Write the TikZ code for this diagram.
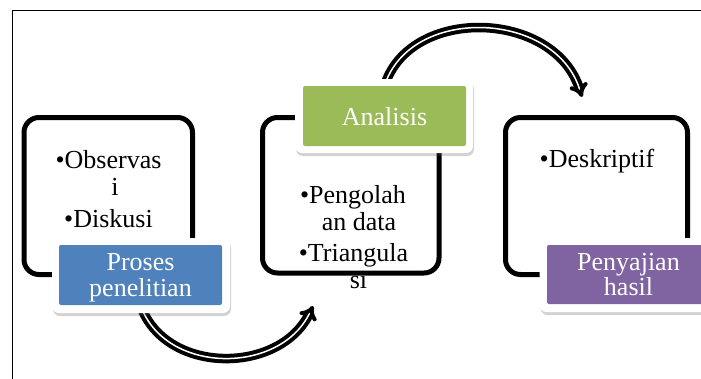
\documentclass[tikz,border=0pt]{standalone}
\usepackage{fontspec}
\setmainfont{Liberation Serif}
\usetikzlibrary{arrows.meta,shadows,backgrounds}
\definecolor{pblue}{HTML}{4F81BD}
\definecolor{pgreen}{HTML}{9BBB59}
\definecolor{ppurple}{HTML}{8064A2}
\tikzset{
  blackbox/.style={draw=black, line width=5pt, rounded corners=15pt, inner sep=0pt},
  lblout/.style={fill=white, rounded corners=7pt, minimum width=178pt, minimum height=75pt, inner sep=0pt,
    drop shadow={shadow xshift=1pt, shadow yshift=-3pt, opacity=0.25, fill=black!70}},
  lblin/.style={rounded corners=2pt, minimum width=163pt, minimum height=60pt, inner sep=0pt},
  lbltext/.style={anchor=base, text=white, inner sep=0pt, font=\fontsize{26}{28}\selectfont},
  bodytext/.style={anchor=base, text=black, inner sep=0pt, font=\fontsize{26}{28}\selectfont},
  dblarrow/.style={draw=black, line width=4pt, double=white, double distance=1.5pt, -{Implies}},
}
\begin{document}
\begin{tikzpicture}[x=1pt,y=-1pt]
\useasboundingbox (0,0) rectangle (701,378);
\clip (0,0) rectangle (701,378);
\draw[line width=0.9pt] (12.5,10) rectangle (760,420);

% content boxes
\node[blackbox, minimum width=168.5pt, minimum height=157pt] (box1) at (108.25,196) {};
\node[blackbox, minimum width=176.5pt, minimum height=155.5pt] (box2) at (350.75,195.25) {};
\node[blackbox, minimum width=182pt, minimum height=157pt] (box3) at (596.5,196) {};

% box texts
\node[bodytext] (t11) at (108.5,168) {•Observas};
\node[bodytext] (t12) at (115,195) {i};
\node[bodytext] (t13) at (108.5,227) {•Diskusi};
\node[bodytext] (t21) at (353,203) {•Pengolah};
\node[bodytext] (t22) at (359,230) {an data};
\node[bodytext] (t23) at (353.5,261) {•Triangula};
\node[bodytext] (t24) at (358.5,288) {si};
\node[bodytext] (t31) at (597,167) {•Deskriptif};

% label boxes
\node[lblout] (prosesout) at (141,275.5) {};
\node[lblin, fill=pblue] (proses) at (140.5,275) {};
\node[lbltext] (p1) at (140.5,270) {Proses};
\node[lbltext] (p2) at (140.5,296) {penelitian};

\node[lblout, minimum height=74pt] (analisisout) at (384,116) {};
\node[lblin, fill=pgreen] (analisis) at (384.5,116) {};
\node[lbltext] (a1) at (384.5,125) {Analisis};

\node[lblout, minimum height=74pt] (penyout) at (628.5,275) {};
\node[lblin, fill=ppurple, minimum height=59pt] (peny) at (628.5,274.5) {};
\node[lbltext] (y1) at (628.5,270) {Penyajian};
\node[lbltext] (y2) at (628.5,295) {hasil};

% arrows
\coordinate (e1) at (313,306);
\coordinate (e2) at (582,97);
\begin{scope}[on background layer]
\draw[dblarrow] (proses.south) .. controls (165,375) and (280,375) .. (e1);
\draw[dblarrow] (analisis.north) .. controls (410,5) and (555,10) .. (e2);
\end{scope}
\end{tikzpicture}
\end{document}
